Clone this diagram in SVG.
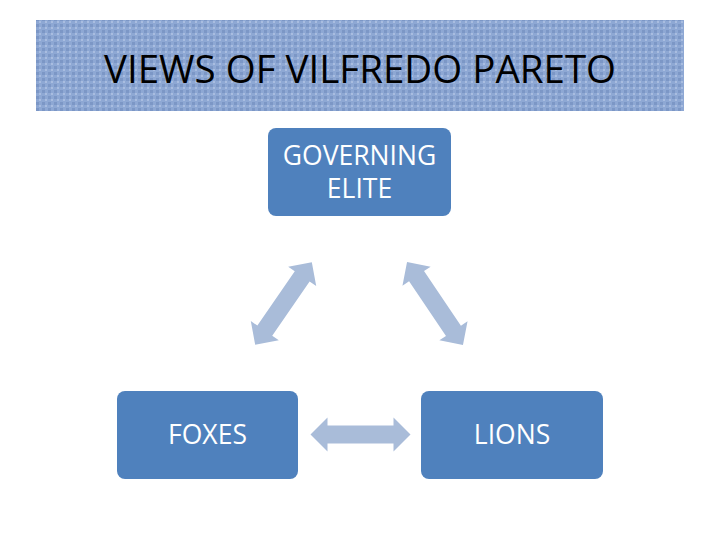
<svg xmlns="http://www.w3.org/2000/svg" width="720" height="540" viewBox="0 0 720 540">
<style>
.box{fill:#4f81bd}
.t{fill:#fff;font-family:"Open Sans","Liberation Sans",sans-serif;font-size:26.5px;text-anchor:middle}
.arr{fill:#a9bcd9}
</style>
<defs>
<pattern id="tex" width="6" height="6" patternUnits="userSpaceOnUse">
<rect width="6" height="6" fill="#8ea8d4"/>
<rect width="3" height="3" fill="#7c97c6"/>
<rect x="3" y="3" width="2" height="2" fill="#a9bde0"/>
</pattern>
<polygon id="da" points="-50,0 -33,-17 -33,-9 33,-9 33,-17 50,0 33,17 33,9 -33,9 -33,17"/>
</defs>
<rect width="720" height="540" fill="#fff"/>
<g id="title">
<rect x="36" y="20" width="648" height="91" fill="url(#tex)"/>
<text x="360" y="83" font-family="Open Sans,Liberation Sans,sans-serif" font-size="38.5" text-anchor="middle" fill="#000">VIEWS OF VILFREDO PARETO</text>
</g>
<g id="connectors">
<use href="#da" class="arr" transform="translate(283.5,303.5) rotate(124.5)"/>
<use href="#da" class="arr" transform="translate(435,303.5) rotate(56)"/>
<use href="#da" class="arr" transform="translate(360.5,434.5)"/>
</g>
<g id="governing">
<rect class="box" x="268" y="128" width="183" height="88" rx="8"/>
<text class="t" x="359.5" y="165">GOVERNING</text>
<text class="t" x="359.5" y="198">ELITE</text>
</g>
<g id="foxes">
<rect class="box" x="117" y="391" width="181" height="88" rx="8"/>
<text class="t" x="207.5" y="444">FOXES</text>
</g>
<g id="lions">
<rect class="box" x="421" y="391" width="182" height="88" rx="8"/>
<text class="t" x="512" y="444">LIONS</text>
</g>
</svg>
